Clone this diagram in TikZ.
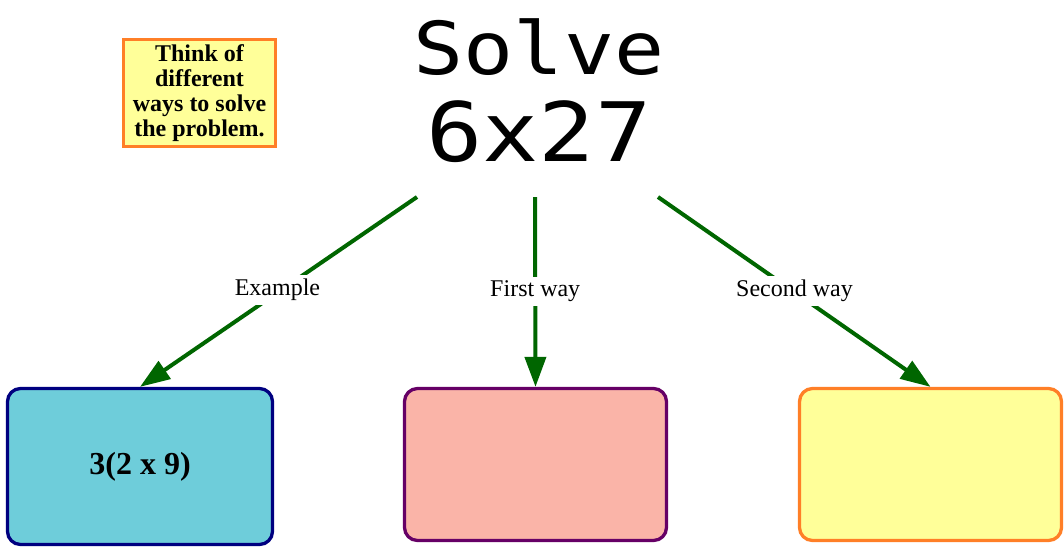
\documentclass[tikz,border=0pt]{standalone}
\usepackage{fontspec}
\setmainfont{Liberation Serif}
\newfontfamily\titlefont{DejaVu Sans Mono}
\usetikzlibrary{arrows.meta}
\definecolor{arrowgreen}{HTML}{006600}
\definecolor{cyanfill}{HTML}{6ECDDA}
\definecolor{navyline}{HTML}{000080}
\definecolor{salmonfill}{HTML}{FAB4A8}
\definecolor{purpleline}{HTML}{660066}
\definecolor{yellowfill}{HTML}{FFFF99}
\definecolor{orangeline}{HTML}{FF7F27}
\tikzset{
  answerbox/.style={draw, line width=3.3pt, rounded corners=13pt, minimum width=262pt, minimum height=152pt, inner sep=0pt},
  notebox/.style={draw=orangeline, fill=yellowfill, line width=3pt, minimum width=152pt, minimum height=107pt, inner sep=0pt, align=center, font=\bfseries\fontsize{24}{25}\selectfont},
  wayarrow/.style={draw=arrowgreen, line width=4pt, -{Triangle[length=30pt,width=21pt]}},
  waylabel/.style={fill=white, inner sep=4pt, font=\fontsize{24}{26}\selectfont}
}
\begin{document}
\begin{tikzpicture}[x=1pt,y=-1pt]
\useasboundingbox (0,0) rectangle (1064,547);
% title
\node[inner sep=0pt, anchor=base] (title) at (539,74) {\titlefont
  \vtop{\baselineskip=87pt\lineskiplimit=-200pt
    \hbox to 0pt{\hss\scalebox{1.14}[1]{\fontsize{73}{73}\selectfont Solve}\hss}
    \hbox to 0pt{\hss\scalebox{1.14}[1]{\fontsize{82}{82}\selectfont 6x27}\hss}}};
% note
\node[notebox] (note) at (199.5,93) {Think of\\different\\ways to solve\\the problem.};
% boxes
\node[answerbox, draw=navyline, fill=cyanfill, minimum width=265pt, minimum height=156pt,
      font=\bfseries\fontsize{32}{34}\selectfont] (b1) at (140,466.5) {\raisebox{-3pt}{3(2 x 9)}};
\node[answerbox, draw=purpleline, fill=salmonfill] (b2) at (535.5,464.5) {};
\node[answerbox, draw=orangeline, fill=yellowfill] (b3) at (930.5,464.5) {};
% arrow starts
\coordinate (s1) at (417,197);
\coordinate (s2) at (535,197);
\coordinate (s3) at (658,197);
\draw[wayarrow] (s1) -- node[waylabel, pos=0.475, xshift=-8pt, yshift=-3pt] (l1) {Example} (b1.north);
\draw[wayarrow] (s2) -- node[waylabel, pos=0.48, yshift=-3pt] (l2) {First way} (b2.north);
\draw[wayarrow] (s3) -- node[waylabel, pos=0.479, xshift=6pt, yshift=-3pt] (l3) {Second way} (b3.north);
\end{tikzpicture}
\end{document}
